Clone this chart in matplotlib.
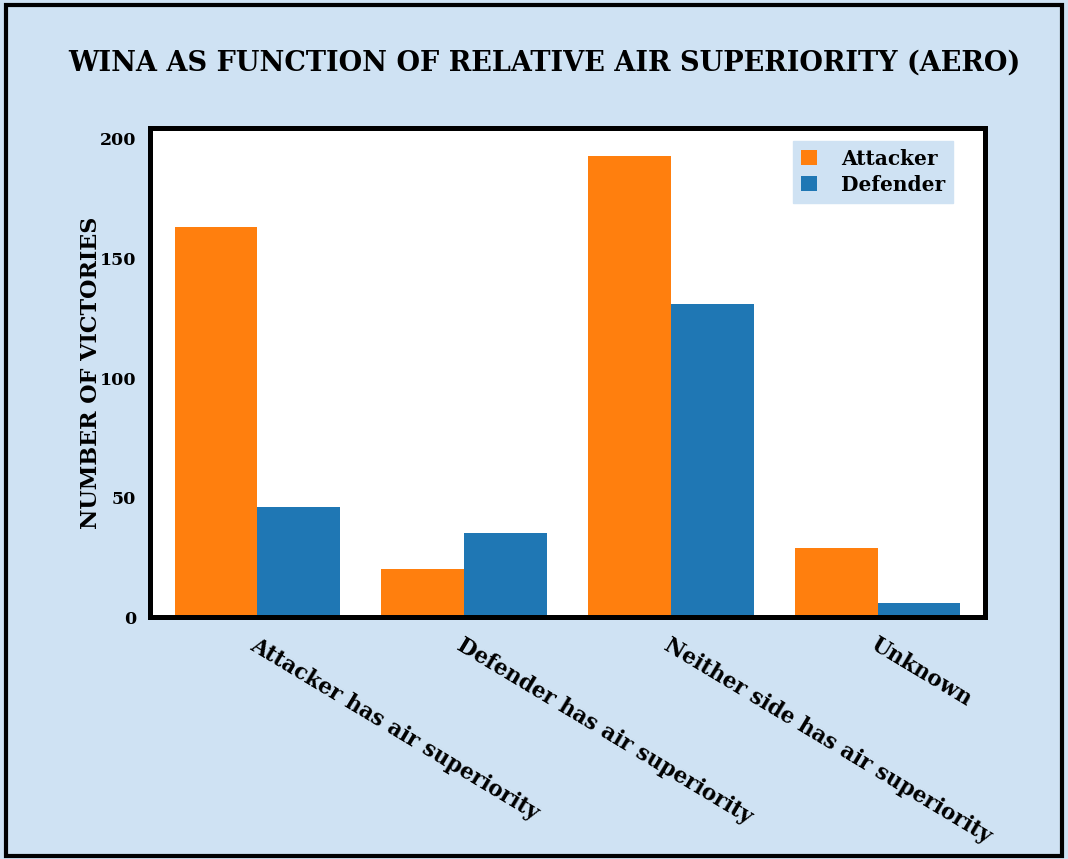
import numpy as np
import matplotlib.pyplot as plt
from matplotlib.patches import Rectangle

# categories and counts
categories = ['Attacker has air superiority', 'Defender has air superiority',
              'Neither side has air superiority', 'Unknown']
attacker = [163, 20, 193, 29]
defender = [46, 35, 131, 6]

bg = '#cfe2f3'
font = 'DejaVu Serif'

fig = plt.figure(figsize=(10.68, 8.59), dpi=100, facecolor=bg)
ax = fig.add_axes([0.1404, 0.2817, 0.7819, 0.5693])

x = np.arange(len(categories))
w = 0.4
ax.bar(x - w/2, attacker, w, color='#ff7f0e', label='Attacker')
ax.bar(x + w/2, defender, w, color='#1f77b4', label='Defender')

ax.set_xlim(-0.52, 3.52)
ax.set_ylim(0, 204.6)
ax.set_yticks([0, 50, 100, 150, 200])
ax.set_yticklabels(['0', '50', '100', '150', '200'], fontsize=12.5, family=font, weight='bold')
ax.set_xticks(x)
ax.set_xticklabels(categories, rotation=-31, ha='left', rotation_mode='anchor',
                   fontsize=15.5, family=font, weight='bold')
ax.tick_params(length=0, pad=10)
ax.tick_params(axis='x', pad=12)

for s in ax.spines.values():
    s.set_linewidth(3.6)

ax.set_ylabel('NUMBER OF VICTORIES', fontsize=16, family=font, weight='bold', labelpad=-2)

leg = ax.legend(loc='upper right', bbox_to_anchor=(0.974, 0.995), frameon=True,
                fancybox=False, prop={'family': font, 'weight': 'bold', 'size': 14.5},
                handlelength=0.8, handleheight=0.8, borderpad=0.4, labelspacing=0.3,
                handletextpad=1.2)
leg.get_frame().set_facecolor(bg)
leg.get_frame().set_edgecolor(bg)
leg.get_frame().set_alpha(1)

fig.text(0.51, 0.926, 'WINA AS FUNCTION OF RELATIVE AIR SUPERIORITY (AERO)',
         ha='center', va='center', fontsize=19.5, family=font, weight='bold')

fig.patches.append(Rectangle((0.006, 0.004), 0.988, 0.99, transform=fig.transFigure,
                             fill=False, edgecolor='black', linewidth=3))

fig.savefig('out.png', dpi=100, facecolor=bg)
